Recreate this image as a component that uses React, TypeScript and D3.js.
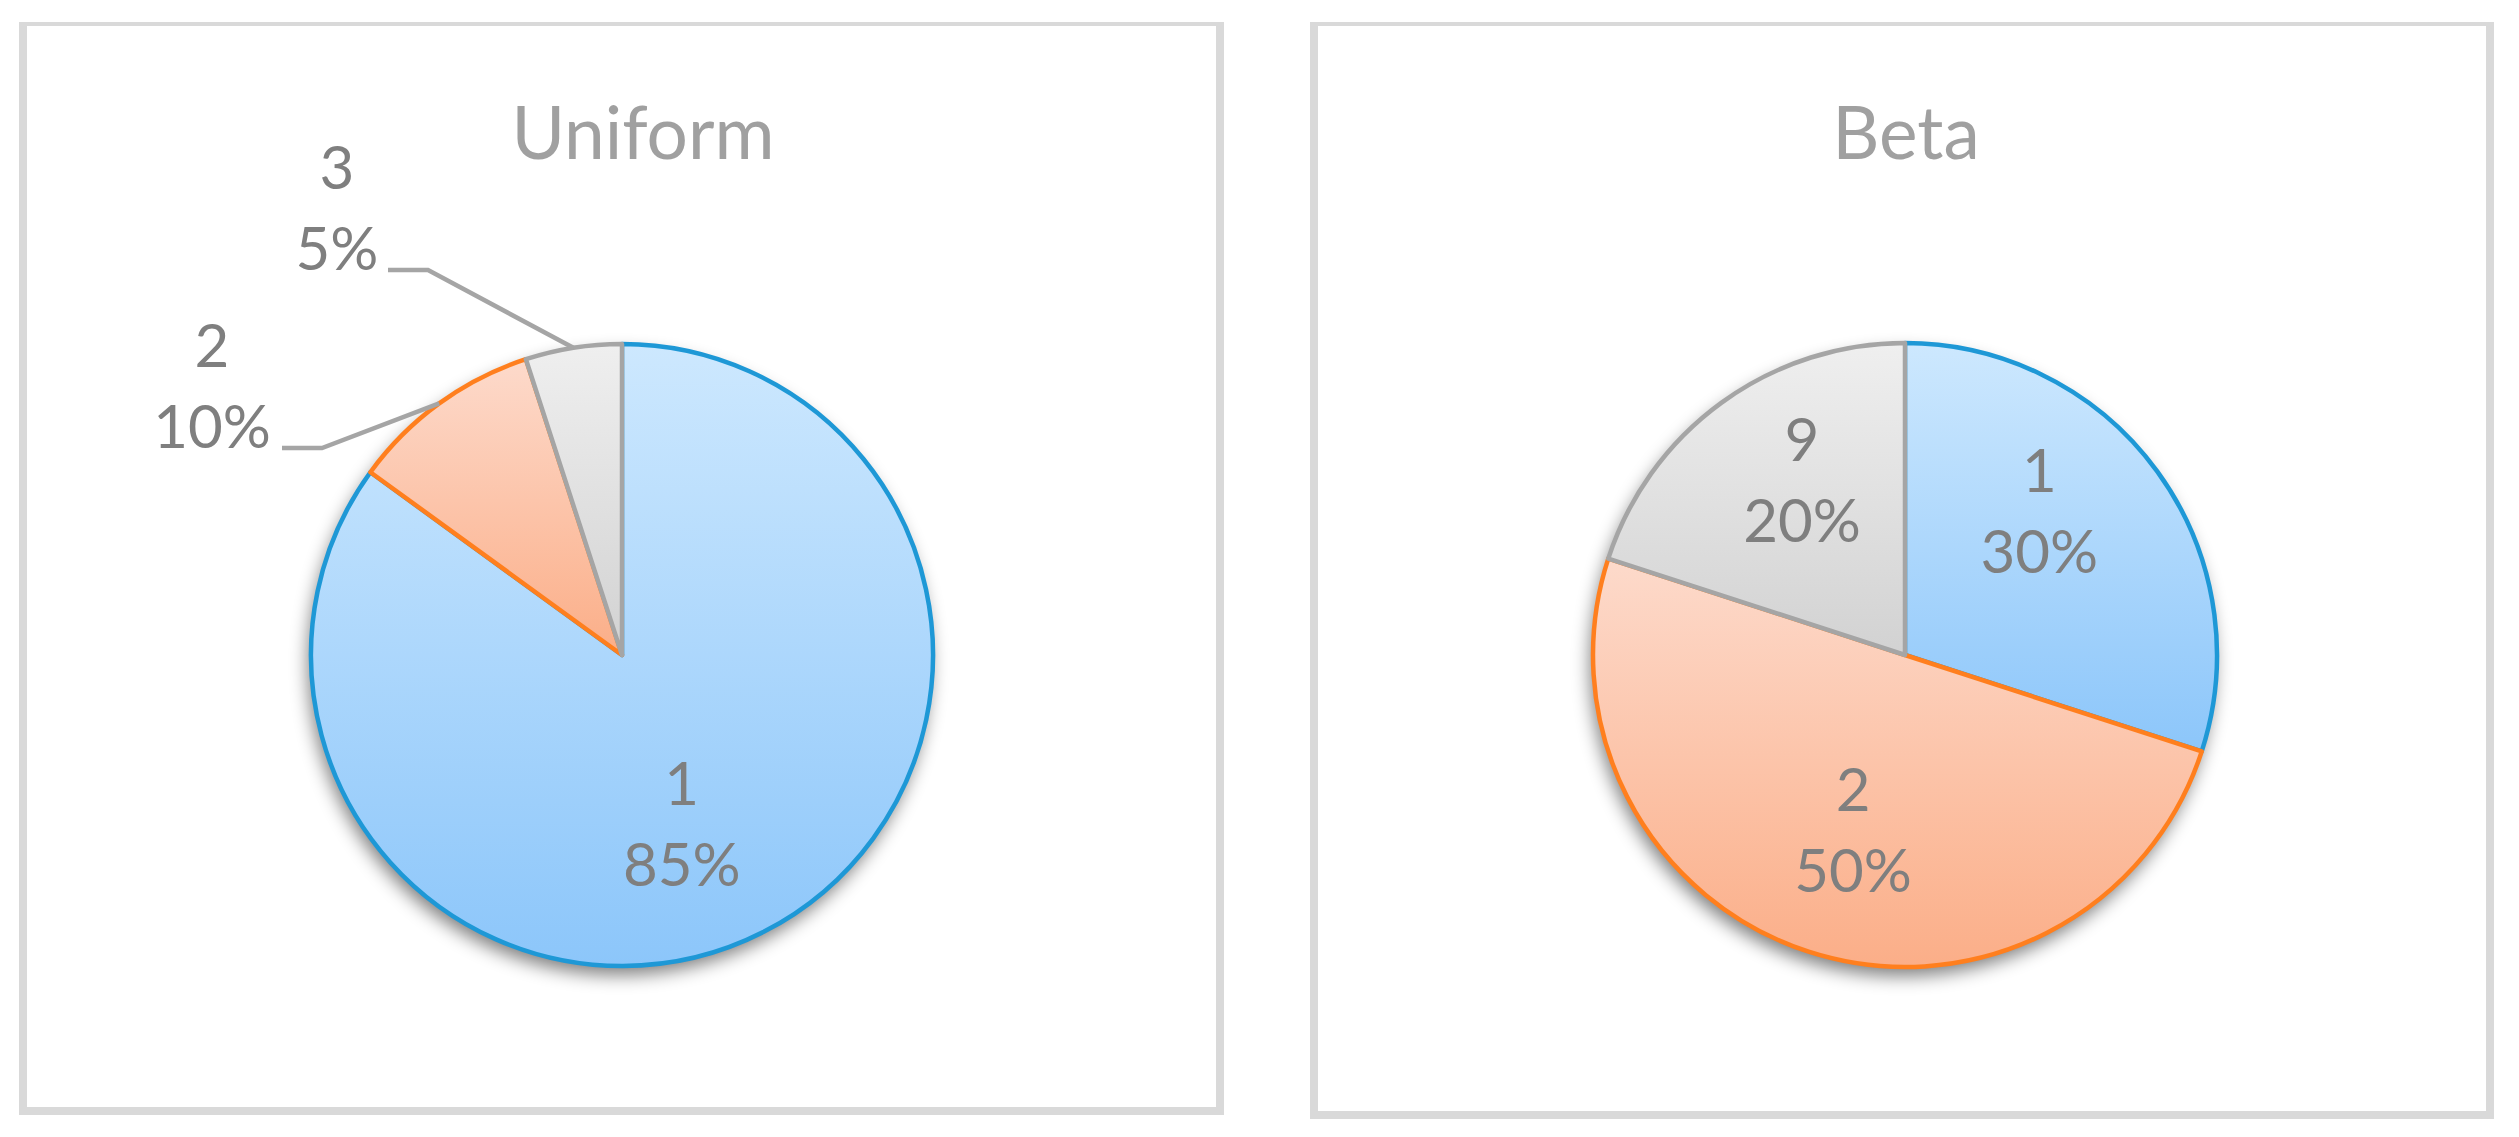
import React from "react";
import * as d3 from "d3";

// ---- data ----
const chartTitles = ["Uniform", "Beta"];
const uniformCategories = ["1", "2", "3"];
const uniformValues = [85, 10, 5];
const betaCategories = ["1", "2", "9"];
const betaValues = [30, 50, 20];

// ---- styles ----
const W = 2519;
const H = 1137;
const FONT = "Lato, 'Open Sans', sans-serif";
const LABEL_COLOR = "#7f7f7f";
const TITLE_COLOR = "#a0a0a0";
const BORDER = "#d9d9d9";
const LINE_COLOR = "#a5a5a5";
const strokeColors = ["#1e98d6", "#ff7f1e", "#a5a5a5"];
const gradTop = ["#cde8fe", "#fddacb", "#efefef"];
const gradBottom = ["#8cc6fa", "#fbae88", "#d2d2d2"];

type Outside = { labelDx: number; elbowDx: number; dy: number };
type Inside = { shiftDeg: number; rho: number };

type PanelCfg = {
  id: string;
  title: string;
  categories: string[];
  values: number[];
  frame: { x0: number; y0: number; x1: number; y1: number };
  titleX: number;
  cx: number;
  cy: number;
  r: number;
  outside: Record<number, Outside>;
  inside: Record<number, Inside>;
};

const panels: PanelCfg[] = [
  {
    id: "u",
    title: chartTitles[0],
    categories: uniformCategories,
    values: uniformValues,
    frame: { x0: 19, y0: 22, x1: 1224, y1: 1115 },
    titleX: 643,
    cx: 622,
    cy: 655,
    r: 311,
    outside: {
      1: { labelDx: -410, elbowDx: -300, dy: -207 },
      2: { labelDx: -285, elbowDx: -194, dy: -385 },
    },
    inside: { 0: { shiftDeg: 7.5, rho: 179 } },
  },
  {
    id: "b",
    title: chartTitles[1],
    categories: betaCategories,
    values: betaValues,
    frame: { x0: 1310, y0: 22, x1: 2494, y1: 1119 },
    titleX: 1906,
    cx: 1905,
    cy: 655,
    r: 312,
    outside: {},
    inside: {
      0: { shiftDeg: -11, rho: 197 },
      1: { shiftDeg: -1.5, rho: 183 },
      2: { shiftDeg: 5.5, rho: 203 },
    },
  },
];

const LINE_GAP = 81;

function Frame({ f }: { f: PanelCfg["frame"] }) {
  const t = 8;
  return (
    <g fill={BORDER}>
      <rect x={f.x0} y={f.y0} width={f.x1 - f.x0} height={4} />
      <rect x={f.x0} y={f.y0} width={t} height={f.y1 - f.y0} />
      <rect x={f.x1 - t} y={f.y0} width={t} height={f.y1 - f.y0} />
      <rect x={f.x0} y={f.y1 - t} width={f.x1 - f.x0} height={t} />
    </g>
  );
}

function Panel({ p }: { p: PanelCfg }) {
  const pie = d3
    .pie<number>()
    .sort(null)
    .value((d) => d)
    .startAngle(0)
    .endAngle(2 * Math.PI);
  const arcs = pie(p.values);
  const total = d3.sum(p.values);
  const arc = d3.arc<d3.PieArcDatum<number>>().innerRadius(0).outerRadius(p.r);
  const disc = d3.arc<any>().innerRadius(0).outerRadius(p.r)({ startAngle: 0, endAngle: 2 * Math.PI } as any) || "";
  const edgeArc = d3
    .arc<d3.PieArcDatum<number>>()
    .innerRadius(p.r)
    .outerRadius(p.r);
  const fmt = d3.format(".0%");

  return (
    <g>
      <Frame f={p.frame} />
      <text
        x={p.titleX}
        y={159}
        textAnchor="middle"
        fontFamily={FONT}
        fontSize={73}
        fill={TITLE_COLOR}
      >
        {p.title}
      </text>
      <g transform={`translate(${p.cx},${p.cy})`}>
        <path d={disc} fill="#000" filter="url(#shadow)" transform="translate(-3,9)" opacity={0.5} />
        <g>
          {arcs.map((a, i) => (
            <path
              key={i}
              d={arc(a) || ""}
              fill={`url(#grad${i})`}
              stroke={strokeColors[i]}
              strokeWidth={4.5}
              strokeLinejoin="round"
            />
          ))}
        </g>
        {arcs.map((a, i) => {
          const pct = fmt(a.value / total);
          const out = p.outside[i];
          if (out) {
            const [ex, ey] = edgeArc.centroid(a);
            const path = `M${ex},${ey}L${out.elbowDx},${out.dy}L${out.elbowDx - 40},${out.dy}`;
            return (
              <g key={i}>
                <path d={path} fill="none" stroke={LINE_COLOR} strokeWidth={4.5} />
                <text
                  textAnchor="middle"
                  fontFamily={FONT}
                  fontSize={60}
                  fill={LABEL_COLOR}
                >
                  <tspan x={out.labelDx} y={out.dy - LINE_GAP}>
                    {p.categories[i]}
                  </tspan>
                  <tspan x={out.labelDx} y={out.dy}>
                    {pct}
                  </tspan>
                </text>
              </g>
            );
          }
          const ins = p.inside[i] || { shiftDeg: 0, rho: p.r * 0.6 };
          const theta = (a.startAngle + a.endAngle) / 2 + (ins.shiftDeg * Math.PI) / 180;
          const lx = ins.rho * Math.sin(theta);
          const ly = -ins.rho * Math.cos(theta);
          return (
            <text
              key={i}
              textAnchor="middle"
              fontFamily={FONT}
              fontSize={60}
              fill={LABEL_COLOR}
            >
              <tspan x={lx} y={ly - 19}>
                {p.categories[i]}
              </tspan>
              <tspan x={lx} y={ly - 19 + LINE_GAP}>
                {pct}
              </tspan>
            </text>
          );
        })}
      </g>
    </g>
  );
}

export default function App() {
  return (
    <svg
      width={W}
      height={H}
      viewBox={`0 0 ${W} ${H}`}
      style={{ position: "absolute", left: 0, top: 0, background: "#ffffff" }}
    >
      <defs>
        {gradTop.map((c, i) => (
          <linearGradient key={i} id={`grad${i}`} x1="0" y1="0" x2="0" y2="1">
            <stop offset="0%" stopColor={c} />
            <stop offset="100%" stopColor={gradBottom[i]} />
          </linearGradient>
        ))}
        <filter id="shadow" x="-20%" y="-20%" width="140%" height="140%">
          <feGaussianBlur stdDeviation="9" />
        </filter>
      </defs>
      <rect x={0} y={0} width={W} height={H} fill="#ffffff" />
      {panels.map((p) => (
        <Panel key={p.id} p={p} />
      ))}
    </svg>
  );
}
